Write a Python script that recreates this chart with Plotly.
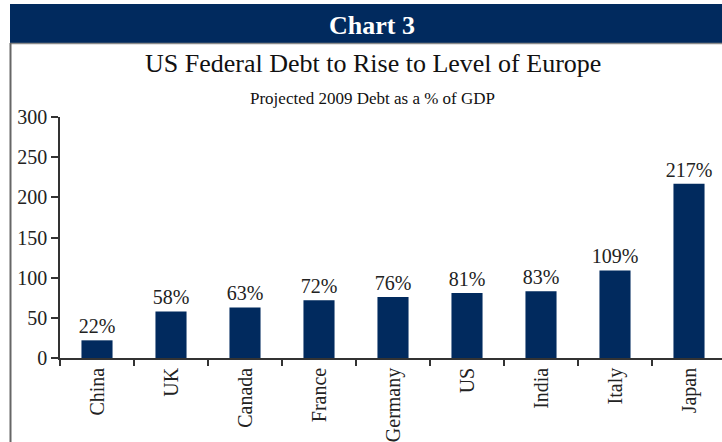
import plotly.graph_objects as go

countries = ["China", "UK", "Canada", "France", "Germany", "US", "India", "Italy", "Japan"]
debt_pct = [22, 58, 63, 72, 76, 81, 83, 109, 217]
value_labels = ["22%", "58%", "63%", "72%", "76%", "81%", "83%", "109%", "217%"]
y_ticks = [0, 50, 100, 150, 200, 250, 300]

NAVY = "#012a5e"
FONT = "Liberation Serif"
W, H = 722, 442
L, R, T, B = 60, 0, 117, 84
PW, PH = W - L - R, H - T - B


def px_x(p):
    return (p - L) / PW


def px_y(p):
    return (H - B - p) / PH


fig = go.Figure(go.Bar(
    x=countries, y=debt_pct, text=value_labels, textposition="outside",
    textfont=dict(family=FONT, size=20, color="#222"), constraintext="none",
    marker=dict(color=NAVY, line=dict(width=0)), width=0.42,
    cliponaxis=False,
))

shapes = [
    dict(type="rect", xref="paper", yref="paper", x0=px_x(10), x1=1.01,
         y0=px_y(43), y1=px_y(4), fillcolor=NAVY, line=dict(width=0), layer="above"),
    dict(type="line", xref="paper", yref="paper", x0=px_x(10), x1=1.01,
         y0=px_y(43.5), y1=px_y(43.5), line=dict(color="#8a8a8a", width=1.5)),
    dict(type="line", xref="paper", yref="paper", x0=px_x(10.5), x1=px_x(10.5),
         y0=px_y(43), y1=px_y(445), line=dict(color="#666", width=2)),
]

annotations = [
    dict(text="<b>Chart 3</b>", x=px_x(372), y=px_y(25), xref="paper", yref="paper",
         showarrow=False, font=dict(family=FONT, size=26, color="white"),
         xanchor="center", yanchor="middle"),
    dict(text="US Federal Debt to Rise to Level of Europe", x=px_x(373), y=px_y(64),
         xref="paper", yref="paper", showarrow=False,
         font=dict(family=FONT, size=26, color="#111"), xanchor="center", yanchor="middle"),
    dict(text="Projected 2009 Debt as a % of GDP", x=px_x(372), y=px_y(98),
         xref="paper", yref="paper", showarrow=False,
         font=dict(family=FONT, size=17, color="#111"), xanchor="center", yanchor="middle"),
]

fig.update_layout(
    width=W, height=H, margin=dict(l=L, r=R, t=T, b=B, autoexpand=False),
    paper_bgcolor="white", plot_bgcolor="white", showlegend=False,
    shapes=shapes, annotations=annotations, bargap=0.58,
    font=dict(family=FONT, color="#222"),
)
fig.update_xaxes(
    range=[-0.5, -0.5 + PW / 74.0], showline=True, linecolor="#333", linewidth=1.5,
    ticks="outside", tickson="boundaries", ticklen=6, tickcolor="#333", tickwidth=1.5,
    tickangle=-90, tickfont=dict(family=FONT, size=20, color="#222"),
    showgrid=False, automargin=False, fixedrange=True,
)
fig.update_yaxes(
    range=[0, 300], tickvals=y_ticks, showline=True, linecolor="#333", linewidth=1.5,
    ticks="outside", ticklen=7, tickcolor="#333", tickwidth=1.5,
    tickfont=dict(family=FONT, size=20, color="#222"), showgrid=False, zeroline=False,
    automargin=False, fixedrange=True,
)

fig.write_html("out.html", config={"displayModeBar": False})
